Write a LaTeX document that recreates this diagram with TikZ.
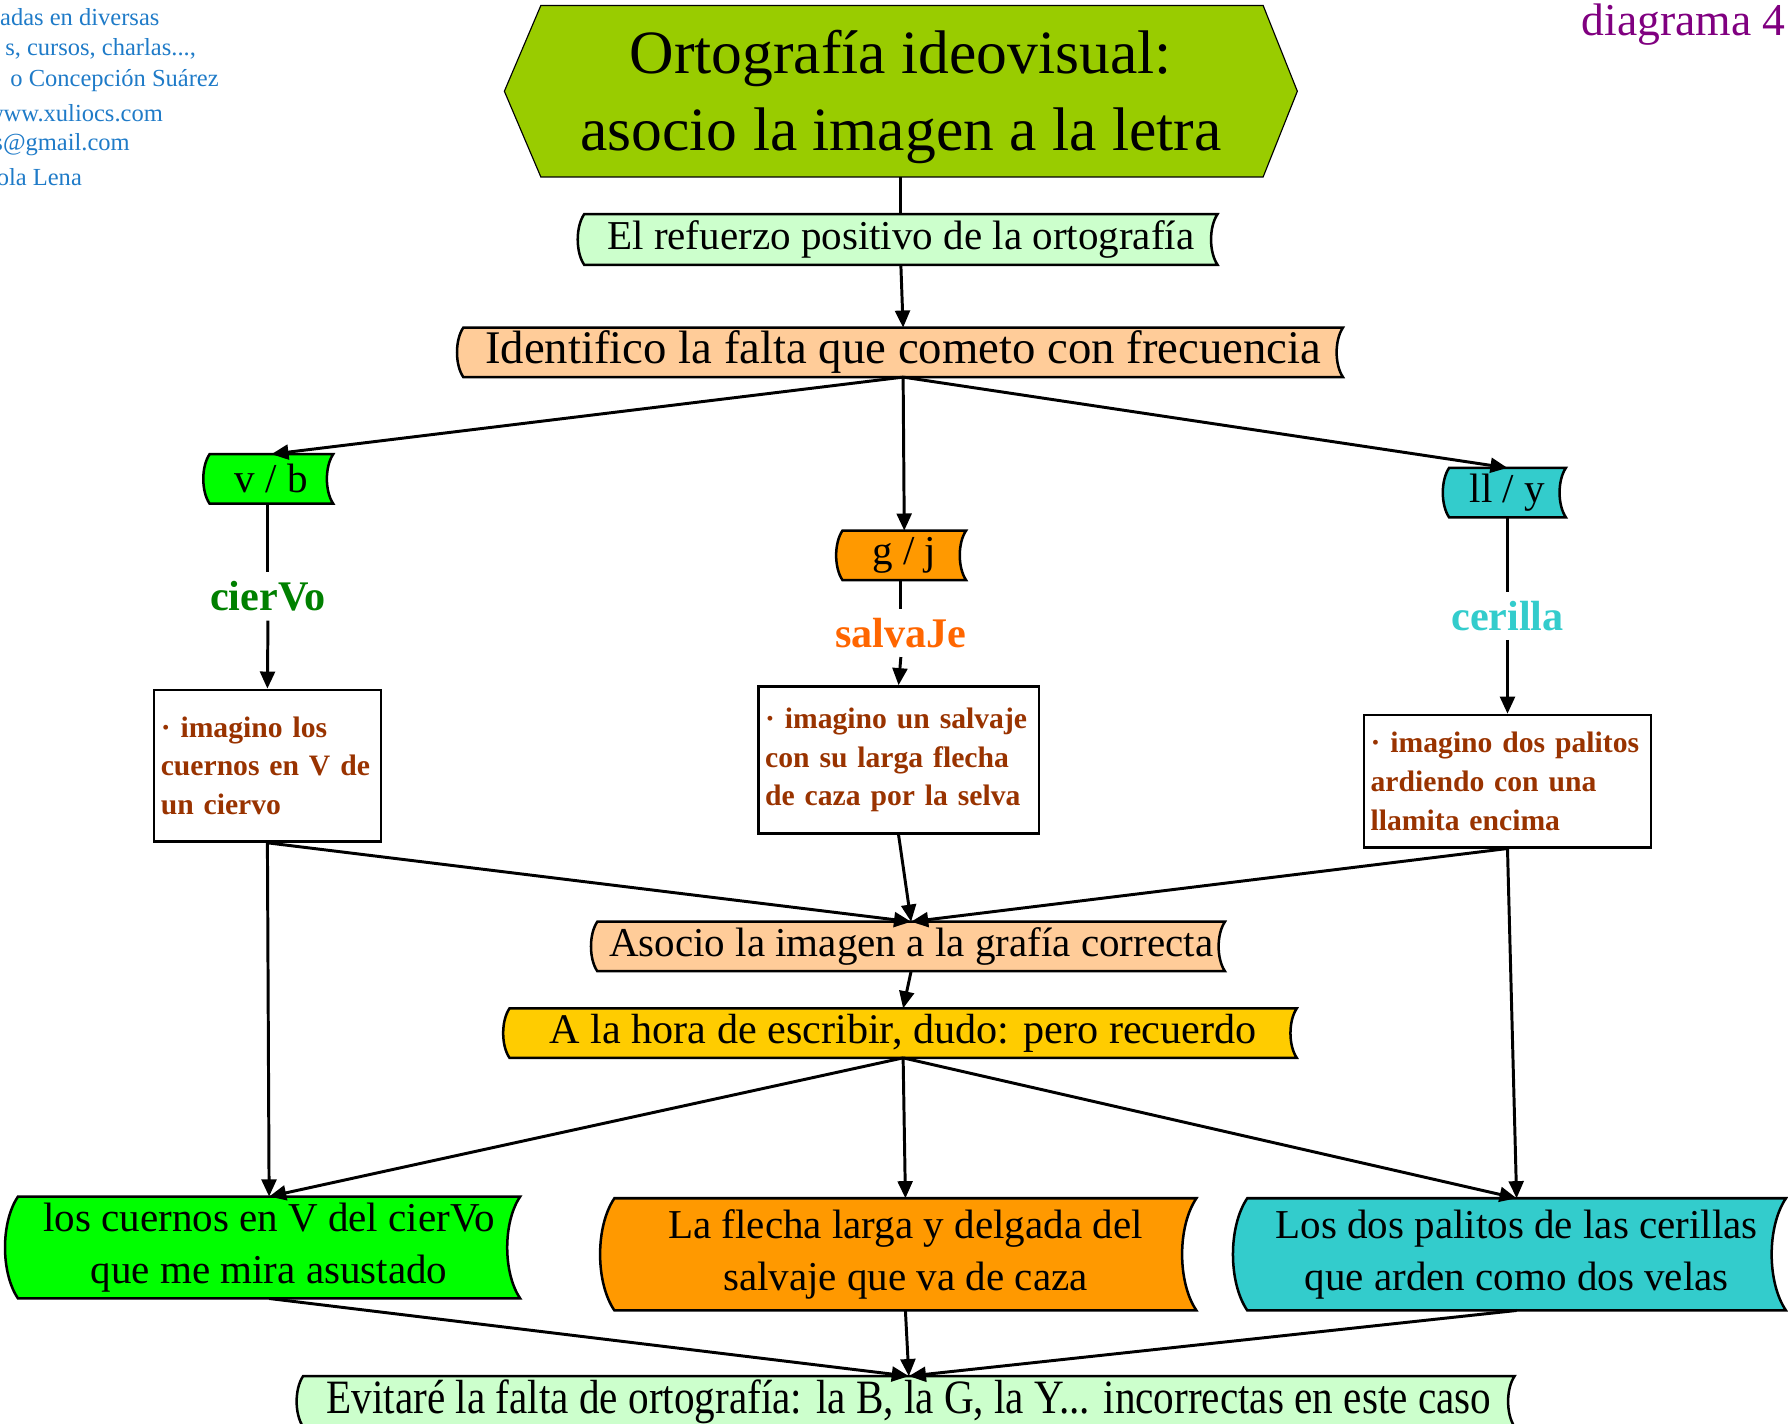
\documentclass[tikz,border=0pt]{standalone}
\usepackage{fontspec}
\setmainfont{Liberation Serif}
\usetikzlibrary{arrows.meta,calc,backgrounds}

\definecolor{verdetit}{HTML}{99CC00}
\definecolor{verdeclaro}{HTML}{CCFFCC}
\definecolor{salmon}{HTML}{FFCC99}
\definecolor{verdevivo}{HTML}{00FF00}
\definecolor{naranja}{HTML}{FF9900}
\definecolor{turquesa}{HTML}{33CCCC}
\definecolor{amarillo}{HTML}{FFCC00}
\definecolor{marron}{HTML}{993300}
\definecolor{verdeosc}{HTML}{008000}
\definecolor{naranjaosc}{HTML}{FF6600}
\definecolor{azulnota}{HTML}{1F7BC8}
\definecolor{morado}{HTML}{800080}

\tikzset{
  banda/.style={inner sep=0pt, align=center, minimum height=43pt},
  caja/.style={draw, line width=2.2pt, fill=white, inner sep=6pt, align=left,
    text=marron, font=\fontsize{26}{34}\selectfont\bfseries},
  palabra/.style={font=\fontsize{37}{40}\selectfont\bfseries, inner sep=8pt},
  linea/.style={line width=2.6pt},
  flecha/.style={linea, -{Triangle[length=15pt,width=13pt]}},
  borde/.style={line width=2.2pt},
  nota/.style={text=azulnota, font=\fontsize{21.5}{28}\selectfont, anchor=east, inner sep=0pt},
}

% forma de banda: lado izquierdo convexo, derecho concavo
\newcommand{\banda}[2]{%
  \draw[borde, fill=#2] let \p1=($(#1.north)-(#1.south)$), \n1={0.17*\y1}, \n2={0.25*\y1} in
    (#1.north west)
    .. controls ($(#1.north west)+(-\n1,-\n2)$) and ($(#1.south west)+(-\n1,\n2)$) .. (#1.south west)
    -- (#1.south east)
    .. controls ($(#1.south east)+(-\n1,\n2)$) and ($(#1.north east)+(-\n1,-\n2)$) .. (#1.north east)
    -- cycle;}

\begin{document}
\begin{tikzpicture}[x=1pt,y=-1pt]
\useasboundingbox (0,0) rectangle (1568,1248);

% notas de la esquina
\node[nota] (nota1) at (140,15) {adas en diversas};
\node[nota] (nota2) at (172,43) {s, cursos, charlas...,};
\node[nota] (nota3) at (192,71) {o Concepción Suárez};
\node[nota] (nota4) at (143,99) {www.xuliocs.com};
\node[nota] (nota5) at (114,127) {s@gmail.com};
\node[nota] (nota6) at (72,155) {ola Lena};
\node[text=morado, font=\fontsize{40}{40}\selectfont, anchor=east, inner sep=0pt] (diagrama) at (1566,22) {diagrama 4};

% titulo
\node[inner sep=0pt, align=center, minimum width=695pt, minimum height=150pt,
  font=\fontsize{54}{68}\selectfont] (titulo) at (790,85) {Ortografía ideovisual:\\asocio la imagen a la letra};

\node[banda, minimum width=555pt, minimum height=44pt, font=\fontsize{36}{40}\selectfont] (refuerzo) at (790,210) {El refuerzo positivo de la ortografía};
\node[banda, minimum width=771pt, font=\fontsize{41}{44}\selectfont] (identifico) at (792,309) {Identifico la falta que cometo con frecuencia};

\node[banda, minimum width=108pt, font=\fontsize{36}{40}\selectfont] (vb) at (238,420) {v / b};
\node[banda, minimum width=108pt, font=\fontsize{36}{40}\selectfont] (gj) at (793,487) {g / j};
\node[banda, minimum width=102pt, font=\fontsize{36}{40}\selectfont] (lly) at (1322,432) {ll / y};

\node[palabra, text=verdeosc] (ciervo) at (235,523) {cierVo};
\node[palabra, text=naranjaosc] (salvaje) at (790,555) {salvaJe};
\node[palabra, text=turquesa] (cerilla) at (1322,540) {cerilla};

\node[caja, minimum height=133pt, text width=187pt] (imgciervo) at (234.5,671.5) {· imagino los\\cuernos en V de\\un ciervo};
\node[caja, minimum height=129pt, text width=234pt] (imgsalvaje) at (788,666.5) {· imagino un salvaje\\con su larga flecha\\de caza por la selva};
\node[caja, minimum height=116pt, text width=240pt] (imgcerilla) at (1322,685) {· imagino dos palitos\\ardiendo con una\\llamita encima};

\node[banda, minimum width=550pt, font=\fontsize{36}{40}\selectfont] (asocio) at (799,830) {Asocio la imagen a la grafía correcta};
\node[banda, minimum width=690pt, font=\fontsize{37}{40}\selectfont] (hora) at (792,906) {A la hora de escribir, dudo: pero recuerdo};

\node[banda, minimum width=440pt, minimum height=89pt, font=\fontsize{36}{46}\selectfont] (cuernos) at (236,1094) {los cuernos en V del cierVo\\que me mira asustado};
\node[banda, minimum width=510pt, minimum height=98pt, font=\fontsize{36}{46}\selectfont] (flechalarga) at (794,1100) {La flecha larga y delgada del\\salvaje que va de caza};
\node[banda, minimum width=472pt, minimum height=98pt, font=\fontsize{36}{46}\selectfont] (palitos) at (1330,1100) {Los dos palitos de las cerillas\\que arden como dos velas};

\node[banda, minimum width=1062pt, minimum height=44pt, font=\fontsize{42}{44}\selectfont] (evitare) at (797,1229)
  {\scalebox{0.86}[1]{Evitaré la falta de ortografía: la B, la G, la Y... incorrectas en este caso}};

% fondos
\begin{pgfonlayer}{background}
\clip (0,0) rectangle (1568,1248);
\draw[line width=1pt, fill=verdetit] ([shift={(32pt,5pt)}]titulo.north west) -- ([shift={(-30pt,5pt)}]titulo.north east)
  -- ([yshift=5pt]titulo.east) -- ([shift={(-30pt,5pt)}]titulo.south east) -- ([shift={(32pt,5pt)}]titulo.south west)
  -- ([yshift=5pt]titulo.west) -- cycle;
\banda{refuerzo}{verdeclaro}
\banda{identifico}{salmon}
\banda{vb}{verdevivo}
\banda{gj}{naranja}
\banda{lly}{turquesa}
\banda{asocio}{salmon}
\banda{hora}{amarillo}
\banda{cuernos}{verdevivo}
\banda{flechalarga}{naranja}
\banda{palitos}{turquesa}
\banda{evitare}{verdeclaro}
\end{pgfonlayer}

% conexiones
\draw[linea] ([yshift=5pt]titulo.south) -- (refuerzo.north);
\draw[flecha] (refuerzo.south) -- (identifico.north);
\draw[flecha] (identifico.south) -- (vb.north);
\draw[flecha] (identifico.south) -- (gj.north);
\draw[flecha] (identifico.south) -- (lly.north);
\draw[linea] (ciervo.north |- vb.south) -- (ciervo.north);
\draw[linea] (salvaje.north |- gj.south) -- (salvaje.north);
\draw[linea] (cerilla.north |- lly.south) -- (cerilla.north);
\draw[flecha] (ciervo.south) -- (imgciervo.north);
\draw[flecha] (salvaje.south) -- (imgsalvaje.north);
\draw[flecha] (cerilla.south) -- (imgcerilla.north);
\draw[flecha] (imgciervo.south) -- (asocio.north);
\draw[flecha] (imgsalvaje.south) -- (asocio.north);
\draw[flecha] (imgcerilla.south) -- (asocio.north);
\draw[flecha] (imgciervo.south) -- (cuernos.north);
\draw[flecha] (imgcerilla.south) -- (palitos.north);
\draw[flecha] (asocio.south) -- (hora.north);
\draw[flecha] (hora.south) -- (cuernos.north);
\draw[flecha] (hora.south) -- (flechalarga.north);
\draw[flecha] (hora.south) -- (palitos.north);
\draw[flecha] (cuernos.south) -- (evitare.north);
\draw[flecha] (flechalarga.south) -- (evitare.north);
\draw[flecha] (palitos.south) -- (evitare.north);
\end{tikzpicture}
\end{document}
